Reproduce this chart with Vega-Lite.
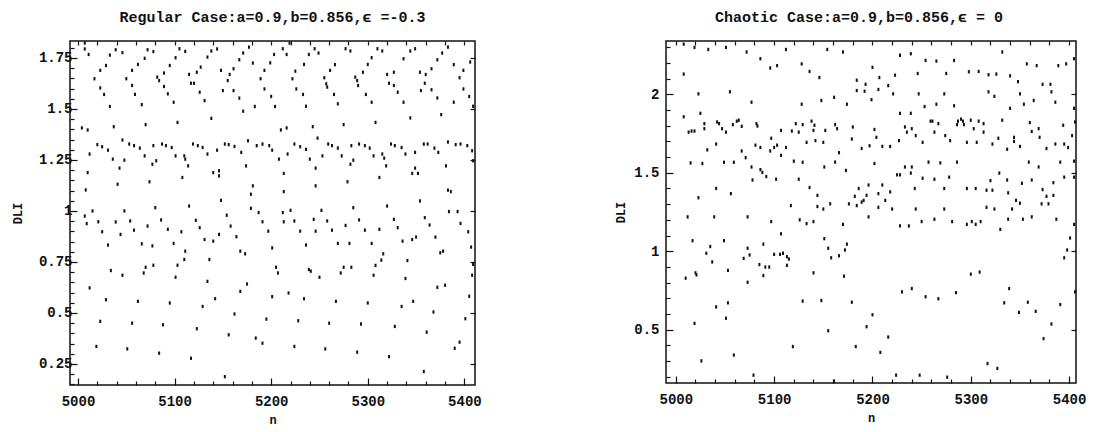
{
  "$schema": "https://vega.github.io/schema/vega-lite/v6.json",
  "background": "white",
  "padding": {"left": 10, "top": 9, "right": 5, "bottom": 0},
  "spacing": 132,
  "config": {
    "view": {"stroke": "#111", "strokeWidth": 1.5},
    "font": "Liberation Mono",
    "axis": {"labelFont": "Liberation Mono", "labelFontWeight": "bold", "labelFontSize": 14, "labelColor": "#111", "titleFont": "Liberation Mono", "titleFontWeight": "bold", "titleFontSize": 12, "titleColor": "#111", "domain": false, "grid": false, "tickColor": "#111", "tickWidth": 1.2, "labelOverlap": false, "labelFlush": false, "labelBound": false},
    "title": {"font": "Liberation Mono", "fontWeight": "bold", "fontSize": 15, "color": "#111"}
  },
  "datasets": {
    "regular": [
      {"n":5007,"dli":1.823},{"n":5007,"dli":1.794},{"n":5011,"dli":1.767},{"n":5039,"dli":1.790},{"n":5046,"dli":1.776},{"n":5033,"dli":1.764},{"n":5072,"dli":1.790},{"n":5078,"dli":1.781},{"n":5105,"dli":1.795},{"n":5111,"dli":1.782},{"n":5069,"dli":1.748},{"n":5101,"dli":1.751},{"n":5029,"dli":1.713},{"n":5062,"dli":1.718},{"n":5095,"dli":1.713},{"n":5127,"dli":1.705},{"n":5023,"dli":1.689},{"n":5056,"dli":1.689},{"n":5089,"dli":1.676},{"n":5123,"dli":1.680},{"n":5017,"dli":1.648},{"n":5050,"dli":1.648},{"n":5082,"dli":1.656},{"n":5115,"dli":1.669},{"n":5023,"dli":1.603},{"n":5056,"dli":1.615},{"n":5084,"dli":1.639},{"n":5089,"dli":1.610},{"n":5117,"dli":1.626},{"n":5120,"dli":1.626},{"n":5027,"dli":1.571},{"n":5059,"dli":1.571},{"n":5093,"dli":1.574},{"n":5126,"dli":1.582},{"n":5033,"dli":1.512},{"n":5066,"dli":1.521},{"n":5099,"dli":1.533},{"n":5131,"dli":1.541},{"n":5037,"dli":1.413},{"n":5070,"dli":1.423},{"n":5103,"dli":1.434},{"n":5004,"dli":1.407},{"n":5010,"dli":1.397},{"n":5046,"dli":1.348},{"n":5020,"dli":1.325},{"n":5025,"dli":1.315},{"n":5031,"dli":1.298},{"n":5053,"dli":1.328},{"n":5058,"dli":1.320},{"n":5064,"dli":1.308},{"n":5078,"dli":1.320},{"n":5087,"dli":1.328},{"n":5091,"dli":1.320},{"n":5097,"dli":1.311},{"n":5119,"dli":1.328},{"n":5124,"dli":1.320},{"n":5129,"dli":1.311},{"n":5012,"dli":1.279},{"n":5036,"dli":1.254},{"n":5048,"dli":1.249},{"n":5043,"dli":1.210},{"n":5069,"dli":1.270},{"n":5077,"dli":1.229},{"n":5081,"dli":1.246},{"n":5101,"dli":1.270},{"n":5110,"dli":1.270},{"n":5111,"dli":1.254},{"n":5114,"dli":1.221},{"n":5010,"dli":1.188},{"n":5041,"dli":1.131},{"n":5074,"dli":1.143},{"n":5108,"dli":1.164},{"n":5008,"dli":1.103},{"n":5015,"dli":1.000},{"n":5048,"dli":1.000},{"n":5080,"dli":1.016},{"n":5115,"dli":1.024},{"n":5007,"dli":0.975},{"n":5009,"dli":0.938},{"n":5021,"dli":0.947},{"n":5039,"dli":0.946},{"n":5054,"dli":0.951},{"n":5072,"dli":0.926},{"n":5086,"dli":0.956},{"n":5093,"dli":0.910},{"n":5107,"dli":0.898},{"n":5122,"dli":0.954},{"n":5126,"dli":0.918},{"n":5025,"dli":0.898},{"n":5044,"dli":0.885},{"n":5058,"dli":0.906},{"n":5031,"dli":0.833},{"n":5066,"dli":0.839},{"n":5077,"dli":0.829},{"n":5099,"dli":0.841},{"n":5111,"dli":0.803},{"n":5131,"dli":0.860},{"n":5034,"dli":0.708},{"n":5046,"dli":0.685},{"n":5070,"dli":0.724},{"n":5078,"dli":0.734},{"n":5068,"dli":0.696},{"n":5103,"dli":0.734},{"n":5101,"dli":0.675},{"n":5110,"dli":0.762},{"n":5012,"dli":0.623},{"n":5029,"dli":0.565},{"n":5062,"dli":0.557},{"n":5095,"dli":0.549},{"n":5129,"dli":0.532},{"n":5023,"dli":0.459},{"n":5056,"dli":0.450},{"n":5088,"dli":0.442},{"n":5123,"dli":0.423},{"n":5019,"dli":0.336},{"n":5051,"dli":0.324},{"n":5084,"dli":0.303},{"n":5117,"dli":0.278},
      {"n":5134,"dli":1.754},{"n":5138,"dli":1.784},{"n":5144,"dli":1.794},{"n":5167,"dli":1.741},{"n":5171,"dli":1.774},{"n":5177,"dli":1.803},{"n":5203,"dli":1.767},{"n":5212,"dli":1.795},{"n":5216,"dli":1.767},{"n":5239,"dli":1.767},{"n":5245,"dli":1.795},{"n":5249,"dli":1.774},{"n":5219,"dli":1.823},{"n":5148,"dli":1.689},{"n":5155,"dli":1.639},{"n":5157,"dli":1.669},{"n":5161,"dli":1.697},{"n":5150,"dli":1.590},{"n":5161,"dli":1.590},{"n":5167,"dli":1.553},{"n":5171,"dli":1.489},{"n":5183,"dli":1.512},{"n":5181,"dli":1.725},{"n":5189,"dli":1.648},{"n":5193,"dli":1.689},{"n":5193,"dli":1.598},{"n":5199,"dli":1.726},{"n":5200,"dli":1.561},{"n":5204,"dli":1.512},{"n":5222,"dli":1.648},{"n":5225,"dli":1.685},{"n":5226,"dli":1.598},{"n":5233,"dli":1.571},{"n":5234,"dli":1.718},{"n":5236,"dli":1.513},{"n":5255,"dli":1.653},{"n":5257,"dli":1.623},{"n":5258,"dli":1.607},{"n":5265,"dli":1.571},{"n":5261,"dli":1.689},{"n":5266,"dli":1.717},{"n":5269,"dli":1.525},{"n":5138,"dli":1.454},{"n":5210,"dli":1.397},{"n":5216,"dli":1.407},{"n":5243,"dli":1.413},{"n":5248,"dli":1.357},{"n":5134,"dli":1.279},{"n":5144,"dli":1.298},{"n":5152,"dli":1.328},{"n":5156,"dli":1.325},{"n":5162,"dli":1.316},{"n":5169,"dli":1.287},{"n":5176,"dli":1.344},{"n":5185,"dli":1.320},{"n":5191,"dli":1.328},{"n":5198,"dli":1.320},{"n":5201,"dli":1.298},{"n":5208,"dli":1.254},{"n":5217,"dli":1.279},{"n":5224,"dli":1.328},{"n":5230,"dli":1.315},{"n":5236,"dli":1.302},{"n":5240,"dli":1.254},{"n":5253,"dli":1.270},{"n":5259,"dli":1.328},{"n":5263,"dli":1.320},{"n":5269,"dli":1.308},{"n":5273,"dli":1.270},{"n":5140,"dli":1.188},{"n":5146,"dli":1.197},{"n":5146,"dli":1.172},{"n":5174,"dli":1.221},{"n":5213,"dli":1.184},{"n":5246,"dli":1.210},{"n":5181,"dli":1.123},{"n":5179,"dli":1.082},{"n":5213,"dli":1.095},{"n":5246,"dli":1.123},{"n":5148,"dli":1.052},{"n":5154,"dli":0.979},{"n":5158,"dli":0.926},{"n":5179,"dli":1.013},{"n":5187,"dli":0.992},{"n":5191,"dli":0.947},{"n":5197,"dli":0.901},{"n":5212,"dli":0.992},{"n":5213,"dli":0.947},{"n":5220,"dli":1.003},{"n":5224,"dli":0.951},{"n":5230,"dli":0.901},{"n":5236,"dli":0.833},{"n":5244,"dli":0.959},{"n":5246,"dli":0.901},{"n":5252,"dli":1.003},{"n":5258,"dli":0.951},{"n":5263,"dli":0.906},{"n":5269,"dli":0.841},{"n":5140,"dli":0.852},{"n":5146,"dli":0.885},{"n":5164,"dli":0.874},{"n":5168,"dli":0.803},{"n":5173,"dli":0.790},{"n":5201,"dli":0.819},{"n":5136,"dli":0.762},{"n":5205,"dli":0.724},{"n":5207,"dli":0.696},{"n":5239,"dli":0.713},{"n":5241,"dli":0.705},{"n":5250,"dli":0.675},{"n":5272,"dli":0.696},{"n":5134,"dli":0.655},{"n":5142,"dli":0.570},{"n":5168,"dli":0.606},{"n":5175,"dli":0.642},{"n":5201,"dli":0.580},{"n":5218,"dli":0.598},{"n":5234,"dli":0.570},{"n":5267,"dli":0.557},{"n":5162,"dli":0.495},{"n":5195,"dli":0.470},{"n":5228,"dli":0.462},{"n":5260,"dli":0.450},{"n":5156,"dli":0.393},{"n":5184,"dli":0.377},{"n":5191,"dli":0.352},{"n":5224,"dli":0.336},{"n":5256,"dli":0.324},{"n":5152,"dli":0.188},
      {"n":5277,"dli":1.795},{"n":5282,"dli":1.784},{"n":5310,"dli":1.795},{"n":5315,"dli":1.784},{"n":5344,"dli":1.784},{"n":5349,"dli":1.795},{"n":5383,"dli":1.803},{"n":5377,"dli":1.774},{"n":5304,"dli":1.751},{"n":5337,"dli":1.746},{"n":5372,"dli":1.741},{"n":5406,"dli":1.730},{"n":5300,"dli":1.718},{"n":5295,"dli":1.680},{"n":5287,"dli":1.656},{"n":5289,"dli":1.639},{"n":5290,"dli":1.615},{"n":5320,"dli":1.669},{"n":5327,"dli":1.680},{"n":5322,"dli":1.626},{"n":5327,"dli":1.615},{"n":5331,"dli":1.582},{"n":5354,"dli":1.680},{"n":5360,"dli":1.669},{"n":5366,"dli":1.697},{"n":5359,"dli":1.626},{"n":5355,"dli":1.590},{"n":5366,"dli":1.594},{"n":5389,"dli":1.717},{"n":5399,"dli":1.689},{"n":5395,"dli":1.653},{"n":5399,"dli":1.598},{"n":5372,"dli":1.554},{"n":5405,"dli":1.561},{"n":5409,"dli":1.513},{"n":5298,"dli":1.571},{"n":5304,"dli":1.533},{"n":5337,"dli":1.533},{"n":5376,"dli":1.472},{"n":5389,"dli":1.533},{"n":5275,"dli":1.423},{"n":5308,"dli":1.434},{"n":5344,"dli":1.456},{"n":5283,"dli":1.320},{"n":5291,"dli":1.328},{"n":5297,"dli":1.320},{"n":5302,"dli":1.308},{"n":5306,"dli":1.270},{"n":5315,"dli":1.279},{"n":5317,"dli":1.259},{"n":5324,"dli":1.328},{"n":5328,"dli":1.320},{"n":5335,"dli":1.311},{"n":5339,"dli":1.279},{"n":5349,"dli":1.287},{"n":5358,"dli":1.328},{"n":5362,"dli":1.328},{"n":5369,"dli":1.308},{"n":5373,"dli":1.287},{"n":5383,"dli":1.338},{"n":5391,"dli":1.325},{"n":5396,"dli":1.328},{"n":5403,"dli":1.320},{"n":5408,"dli":1.295},{"n":5409,"dli":1.246},{"n":5282,"dli":1.229},{"n":5285,"dli":1.249},{"n":5319,"dli":1.221},{"n":5312,"dli":1.164},{"n":5279,"dli":1.143},{"n":5349,"dli":1.210},{"n":5346,"dli":1.184},{"n":5352,"dli":1.184},{"n":5381,"dli":1.221},{"n":5383,"dli":1.102},{"n":5386,"dli":1.095},{"n":5354,"dli":1.049},{"n":5320,"dli":1.024},{"n":5285,"dli":1.016},{"n":5384,"dli":0.997},{"n":5393,"dli":0.997},{"n":5277,"dli":0.929},{"n":5291,"dli":0.956},{"n":5297,"dli":0.906},{"n":5312,"dli":0.910},{"n":5327,"dli":0.959},{"n":5331,"dli":0.918},{"n":5359,"dli":0.967},{"n":5364,"dli":0.931},{"n":5370,"dli":0.872},{"n":5396,"dli":0.939},{"n":5404,"dli":0.898},{"n":5407,"dli":0.823},{"n":5281,"dli":0.841},{"n":5304,"dli":0.841},{"n":5336,"dli":0.852},{"n":5346,"dli":0.860},{"n":5350,"dli":0.872},{"n":5375,"dli":0.795},{"n":5378,"dli":0.803},{"n":5275,"dli":0.724},{"n":5283,"dli":0.724},{"n":5308,"dli":0.733},{"n":5306,"dli":0.685},{"n":5314,"dli":0.759},{"n":5316,"dli":0.790},{"n":5341,"dli":0.757},{"n":5339,"dli":0.669},{"n":5372,"dli":0.626},{"n":5380,"dli":0.636},{"n":5409,"dli":0.738},{"n":5408,"dli":0.685},{"n":5300,"dli":0.549},{"n":5335,"dli":0.532},{"n":5347,"dli":0.557},{"n":5368,"dli":0.505},{"n":5405,"dli":0.582},{"n":5293,"dli":0.446},{"n":5328,"dli":0.434},{"n":5361,"dli":0.406},{"n":5401,"dli":0.472},{"n":5289,"dli":0.308},{"n":5322,"dli":0.286},{"n":5390,"dli":0.327},{"n":5395,"dli":0.357},{"n":5358,"dli":0.213}
    ],
    "chaotic": [
      {"n":5008,"dli":2.32},{"n":5019,"dli":2.299},{"n":5033,"dli":2.286},{"n":5051,"dli":2.299},{"n":5072,"dli":2.270},{"n":5086,"dli":2.227},{"n":5096,"dli":2.168},{"n":5103,"dli":2.183},{"n":5112,"dli":2.286},{"n":5128,"dli":2.194},{"n":5008,"dli":2.129},{"n":5023,"dli":2.003},{"n":5055,"dli":2.016},{"n":5077,"dli":1.950},{"n":5128,"dli":1.937},{"n":5008,"dli":1.857},{"n":5025,"dli":1.879},{"n":5029,"dli":1.813},{"n":5029,"dli":1.781},{"n":5042,"dli":1.824},{"n":5044,"dli":1.813},{"n":5047,"dli":1.781},{"n":5051,"dli":1.759},{"n":5058,"dli":1.807},{"n":5062,"dli":1.829},{"n":5064,"dli":1.835},{"n":5067,"dli":1.796},{"n":5082,"dli":1.813},{"n":5083,"dli":1.798},{"n":5013,"dli":1.759},{"n":5016,"dli":1.766},{"n":5019,"dli":1.766},{"n":5032,"dli":1.646},{"n":5041,"dli":1.683},{"n":5067,"dli":1.639},{"n":5071,"dli":1.596},{"n":5081,"dli":1.676},{"n":5086,"dli":1.661},{"n":5097,"dli":1.720},{"n":5096,"dli":1.639},{"n":5100,"dli":1.661},{"n":5103,"dli":1.676},{"n":5107,"dli":1.611},{"n":5107,"dli":1.770},{"n":5112,"dli":1.661},{"n":5118,"dli":1.766},{"n":5122,"dli":1.813},{"n":5125,"dli":1.759},{"n":5129,"dli":1.807},{"n":5015,"dli":1.563},{"n":5027,"dli":1.559},{"n":5049,"dli":1.567},{"n":5059,"dli":1.567},{"n":5077,"dli":1.537},{"n":5078,"dli":1.454},{"n":5086,"dli":1.520},{"n":5088,"dli":1.502},{"n":5092,"dli":1.476},{"n":5102,"dli":1.459},{"n":5120,"dli":1.574},{"n":5125,"dli":1.459},{"n":5129,"dli":1.567},{"n":5041,"dli":1.400},{"n":5056,"dli":1.367},{"n":5023,"dli":1.341},{"n":5117,"dli":1.291},{"n":5126,"dli":1.200},{"n":5012,"dli":1.219},{"n":5039,"dli":1.219},{"n":5073,"dli":1.219},{"n":5097,"dli":1.189},{"n":5107,"dli":1.111},{"n":5017,"dli":1.067},{"n":5049,"dli":1.067},{"n":5035,"dli":1.030},{"n":5031,"dli":0.987},{"n":5037,"dli":0.932},{"n":5073,"dli":1.019},{"n":5075,"dli":0.976},{"n":5069,"dli":0.954},{"n":5089,"dli":1.045},{"n":5085,"dli":0.915},{"n":5091,"dli":0.899},{"n":5095,"dli":0.899},{"n":5089,"dli":0.845},{"n":5100,"dli":0.980},{"n":5106,"dli":0.980},{"n":5109,"dli":0.987},{"n":5113,"dli":0.965},{"n":5115,"dli":0.950},{"n":5113,"dli":0.910},{"n":5010,"dli":0.828},{"n":5020,"dli":0.862},{"n":5021,"dli":0.849},{"n":5053,"dli":0.878},{"n":5073,"dli":0.802},{"n":5041,"dli":0.645},{"n":5053,"dli":0.671},{"n":5051,"dli":0.573},{"n":5019,"dli":0.540},{"n":5129,"dli":0.682},{"n":5119,"dli":0.392},{"n":5026,"dli":0.301},{"n":5059,"dli":0.338},{"n":5079,"dli":0.210},
      {"n":5154,"dli":2.286},{"n":5170,"dli":2.270},{"n":5228,"dli":2.249},{"n":5239,"dli":2.259},{"n":5254,"dli":2.216},{"n":5265,"dli":2.212},{"n":5136,"dli":2.146},{"n":5146,"dli":2.107},{"n":5184,"dli":2.090},{"n":5193,"dli":2.064},{"n":5192,"dli":2.020},{"n":5184,"dli":2.024},{"n":5207,"dli":2.107},{"n":5216,"dli":2.056},{"n":5206,"dli":2.031},{"n":5221,"dli":2.003},{"n":5223,"dli":2.122},{"n":5200,"dli":2.172},{"n":5246,"dli":2.133},{"n":5247,"dli":2.003},{"n":5148,"dli":1.961},{"n":5161,"dli":1.981},{"n":5174,"dli":1.937},{"n":5199,"dli":1.966},{"n":5228,"dli":1.879},{"n":5239,"dli":1.879},{"n":5253,"dli":1.922},{"n":5265,"dli":1.937},{"n":5138,"dli":1.829},{"n":5141,"dli":1.803},{"n":5140,"dli":1.770},{"n":5152,"dli":1.770},{"n":5162,"dli":1.807},{"n":5164,"dli":1.781},{"n":5180,"dli":1.792},{"n":5179,"dli":1.715},{"n":5202,"dli":1.776},{"n":5204,"dli":1.726},{"n":5133,"dli":1.694},{"n":5142,"dli":1.705},{"n":5150,"dli":1.694},{"n":5189,"dli":1.655},{"n":5197,"dli":1.672},{"n":5210,"dli":1.668},{"n":5218,"dli":1.668},{"n":5227,"dli":1.705},{"n":5233,"dli":1.792},{"n":5235,"dli":1.759},{"n":5240,"dli":1.781},{"n":5244,"dli":1.737},{"n":5251,"dli":1.694},{"n":5259,"dli":1.829},{"n":5261,"dli":1.829},{"n":5267,"dli":1.813},{"n":5263,"dli":1.759},{"n":5166,"dli":1.628},{"n":5151,"dli":1.537},{"n":5162,"dli":1.568},{"n":5173,"dli":1.515},{"n":5202,"dli":1.559},{"n":5225,"dli":1.487},{"n":5228,"dli":1.487},{"n":5233,"dli":1.537},{"n":5239,"dli":1.498},{"n":5240,"dli":1.537},{"n":5251,"dli":1.465},{"n":5257,"dli":1.568},{"n":5263,"dli":1.459},{"n":5269,"dli":1.563},{"n":5136,"dli":1.406},{"n":5144,"dli":1.356},{"n":5144,"dli":1.285},{"n":5150,"dli":1.269},{"n":5157,"dli":1.302},{"n":5176,"dli":1.302},{"n":5182,"dli":1.350},{"n":5186,"dli":1.400},{"n":5184,"dli":1.291},{"n":5189,"dli":1.313},{"n":5191,"dli":1.324},{"n":5194,"dli":1.356},{"n":5196,"dli":1.422},{"n":5210,"dli":1.422},{"n":5206,"dli":1.367},{"n":5213,"dli":1.324},{"n":5218,"dli":1.378},{"n":5206,"dli":1.280},{"n":5220,"dli":1.269},{"n":5196,"dli":1.219},{"n":5244,"dli":1.269},{"n":5243,"dli":1.400},{"n":5250,"dli":1.189},{"n":5263,"dli":1.204},{"n":5133,"dli":1.176},{"n":5140,"dli":1.189},{"n":5170,"dli":1.171},{"n":5228,"dli":1.161},{"n":5237,"dli":1.161},{"n":5151,"dli":1.080},{"n":5155,"dli":1.019},{"n":5158,"dli":0.958},{"n":5166,"dli":0.971},{"n":5172,"dli":1.008},{"n":5174,"dli":1.045},{"n":5140,"dli":0.862},{"n":5171,"dli":0.841},{"n":5230,"dli":0.741},{"n":5240,"dli":0.762},{"n":5254,"dli":0.710},{"n":5267,"dli":0.697},{"n":5148,"dli":0.686},{"n":5179,"dli":0.675},{"n":5200,"dli":0.595},{"n":5194,"dli":0.519},{"n":5216,"dli":0.453},{"n":5155,"dli":0.493},{"n":5183,"dli":0.392},{"n":5208,"dli":0.355},{"n":5224,"dli":0.210},{"n":5248,"dli":0.210},{"n":5161,"dli":0.172},
      {"n":5332,"dli":2.270},{"n":5283,"dli":2.216},{"n":5405,"dli":2.227},{"n":5357,"dli":2.194},{"n":5367,"dli":2.183},{"n":5389,"dli":2.183},{"n":5397,"dli":2.194},{"n":5275,"dli":2.133},{"n":5298,"dli":2.144},{"n":5308,"dli":2.146},{"n":5318,"dli":2.125},{"n":5326,"dli":2.129},{"n":5340,"dli":2.118},{"n":5348,"dli":2.081},{"n":5373,"dli":2.064},{"n":5381,"dli":2.064},{"n":5318,"dli":2.016},{"n":5324,"dli":1.987},{"n":5350,"dli":2.003},{"n":5382,"dli":2.016},{"n":5273,"dli":2.003},{"n":5283,"dli":1.927},{"n":5340,"dli":1.911},{"n":5354,"dli":1.937},{"n":5364,"dli":1.961},{"n":5386,"dli":1.950},{"n":5405,"dli":1.911},{"n":5286,"dli":1.807},{"n":5287,"dli":1.829},{"n":5290,"dli":1.842},{"n":5292,"dli":1.829},{"n":5293,"dli":1.807},{"n":5300,"dli":1.835},{"n":5308,"dli":1.829},{"n":5303,"dli":1.781},{"n":5313,"dli":1.813},{"n":5313,"dli":1.759},{"n":5274,"dli":1.737},{"n":5279,"dli":1.705},{"n":5296,"dli":1.694},{"n":5306,"dli":1.694},{"n":5332,"dli":1.835},{"n":5360,"dli":1.820},{"n":5362,"dli":1.763},{"n":5369,"dli":1.781},{"n":5370,"dli":1.726},{"n":5344,"dli":1.726},{"n":5344,"dli":1.700},{"n":5328,"dli":1.720},{"n":5322,"dli":1.683},{"n":5337,"dli":1.650},{"n":5350,"dli":1.668},{"n":5377,"dli":1.655},{"n":5386,"dli":1.683},{"n":5394,"dli":1.803},{"n":5395,"dli":1.683},{"n":5399,"dli":1.661},{"n":5403,"dli":1.737},{"n":5406,"dli":1.824},{"n":5286,"dli":1.568},{"n":5359,"dli":1.568},{"n":5369,"dli":1.537},{"n":5391,"dli":1.568},{"n":5405,"dli":1.574},{"n":5278,"dli":1.472},{"n":5329,"dli":1.498},{"n":5320,"dli":1.450},{"n":5337,"dli":1.454},{"n":5352,"dli":1.433},{"n":5362,"dli":1.454},{"n":5395,"dli":1.472},{"n":5405,"dli":1.472},{"n":5384,"dli":1.437},{"n":5273,"dli":1.400},{"n":5296,"dli":1.400},{"n":5305,"dli":1.400},{"n":5316,"dli":1.389},{"n":5322,"dli":1.389},{"n":5338,"dli":1.372},{"n":5346,"dli":1.324},{"n":5350,"dli":1.306},{"n":5342,"dli":1.269},{"n":5316,"dli":1.280},{"n":5324,"dli":1.269},{"n":5373,"dli":1.393},{"n":5377,"dli":1.350},{"n":5372,"dli":1.302},{"n":5379,"dli":1.302},{"n":5384,"dli":1.356},{"n":5273,"dli":1.269},{"n":5281,"dli":1.189},{"n":5296,"dli":1.171},{"n":5301,"dli":1.189},{"n":5305,"dli":1.171},{"n":5310,"dli":1.189},{"n":5330,"dli":1.139},{"n":5338,"dli":1.204},{"n":5353,"dli":1.204},{"n":5362,"dli":1.219},{"n":5387,"dli":1.204},{"n":5405,"dli":1.171},{"n":5401,"dli":1.084},{"n":5398,"dli":1.008},{"n":5395,"dli":0.958},{"n":5300,"dli":0.854},{"n":5309,"dli":0.867},{"n":5285,"dli":0.736},{"n":5339,"dli":0.762},{"n":5406,"dli":0.741},{"n":5334,"dli":0.671},{"n":5358,"dli":0.675},{"n":5349,"dli":0.610},{"n":5366,"dli":0.617},{"n":5391,"dli":0.660},{"n":5382,"dli":0.536},{"n":5374,"dli":0.443},{"n":5317,"dli":0.284},{"n":5327,"dli":0.253},{"n":5276,"dli":0.197}
    ]
  },
  "hconcat": [
    {
      "width": 405,
      "height": 344,
      "title": {"text": "Regular Case:a=0.9,b=0.856,ϵ =-0.3", "offset": 15},
      "data": {"name": "regular"},
      "layer": [
        {
          "mark": {"type": "point", "filled": true, "shape": "M-0.6,-1L0.6,-1L0.6,1L-0.6,1Z", "size": 11, "color": "#111", "opacity": 1},
          "encoding": {
            "x": {"field": "n", "type": "quantitative", "scale": {"domain": [4991.7, 5411], "nice": false, "zero": false},
              "axis": {"values": [5000,5020,5040,5060,5080,5100,5120,5140,5160,5180,5200,5220,5240,5260,5280,5300,5320,5340,5360,5380,5400],
                "labelExpr": "datum.value % 100 === 0 ? format(datum.value, 'd') : ''",
                "tickSize": {"condition": {"test": "datum.value % 100 === 0", "value": -7}, "value": -4},
                "labelPadding": 16, "title": "n", "titlePadding": 3}},
            "y": {"field": "dli", "type": "quantitative", "scale": {"domain": [0.147, 1.833], "nice": false, "zero": false},
              "axis": {"values": [0.15,0.2,0.25,0.3,0.35,0.4,0.45,0.5,0.55,0.6,0.65,0.7,0.75,0.8,0.85,0.9,0.95,1,1.05,1.1,1.15,1.2,1.25,1.3,1.35,1.4,1.45,1.5,1.55,1.6,1.65,1.7,1.75,1.8],
                "labelExpr": "abs(datum.value*4 - round(datum.value*4)) < 0.001 ? format(datum.value, '~g') : ''",
                "tickSize": {"condition": {"test": "abs(datum.value*4 - round(datum.value*4)) < 0.001", "value": -7}, "value": -4},
                "labelPadding": 5, "title": "DLI", "titlePadding": 14}}
          }
        },
        {
          "mark": {"type": "point", "opacity": 0},
          "encoding": {
            "x": {"field": "n", "type": "quantitative", "scale": {"domain": [4991.7, 5411], "nice": false, "zero": false},
              "axis": {"orient": "top", "values": [5000,5020,5040,5060,5080,5100,5120,5140,5160,5180,5200,5220,5240,5260,5280,5300,5320,5340,5360,5380,5400], "labels": false, "tickSize": -4, "title": null}},
            "y": {"field": "dli", "type": "quantitative", "scale": {"domain": [0.147, 1.833], "nice": false, "zero": false},
              "axis": {"orient": "right", "values": [0.25,0.5,0.75,1,1.25,1.5,1.75], "labels": false, "tickSize": -5, "title": null}}
          }
        }
      ],
      "resolve": {"axis": {"x": "independent", "y": "independent"}}
    },
    {
      "width": 410,
      "height": 342,
      "title": {"text": "Chaotic Case:a=0.9,b=0.856,ϵ = 0", "offset": 15, "dx": -12},
      "data": {"name": "chaotic"},
      "layer": [
        {
          "mark": {"type": "point", "filled": true, "shape": "M-0.6,-1L0.6,-1L0.6,1L-0.6,1Z", "size": 11, "color": "#111", "opacity": 1},
          "encoding": {
            "x": {"field": "n", "type": "quantitative", "scale": {"domain": [4990, 5407], "nice": false, "zero": false},
              "axis": {"values": [5000,5020,5040,5060,5080,5100,5120,5140,5160,5180,5200,5220,5240,5260,5280,5300,5320,5340,5360,5380,5400],
                "labelExpr": "datum.value % 100 === 0 ? format(datum.value, 'd') : ''",
                "tickSize": {"condition": {"test": "datum.value % 100 === 0", "value": -7}, "value": -4},
                "labelPadding": 16, "title": "n", "titlePadding": 3}},
            "y": {"field": "dli", "type": "quantitative", "scale": {"domain": [0.16, 2.34], "nice": false, "zero": false},
              "axis": {"values": [0.2,0.3,0.4,0.5,0.6,0.7,0.8,0.9,1,1.1,1.2,1.3,1.4,1.5,1.6,1.7,1.8,1.9,2,2.1,2.2,2.3],
                "labelExpr": "abs(datum.value*2 - round(datum.value*2)) < 0.001 ? format(datum.value, '~g') : ''",
                "tickSize": {"condition": {"test": "abs(datum.value*2 - round(datum.value*2)) < 0.001", "value": -7}, "value": -4},
                "labelPadding": 14, "title": "DLI", "titlePadding": 6}}
          }
        },
        {
          "mark": {"type": "point", "opacity": 0},
          "encoding": {
            "x": {"field": "n", "type": "quantitative", "scale": {"domain": [4990, 5407], "nice": false, "zero": false},
              "axis": {"orient": "top", "values": [5000,5020,5040,5060,5080,5100,5120,5140,5160,5180,5200,5220,5240,5260,5280,5300,5320,5340,5360,5380,5400], "labels": false, "tickSize": -4, "title": null}},
            "y": {"field": "dli", "type": "quantitative", "scale": {"domain": [0.16, 2.34], "nice": false, "zero": false},
              "axis": {"orient": "right", "values": [0.5,1,1.5,2], "labels": false, "tickSize": -5, "title": null}}
          }
        }
      ],
      "resolve": {"axis": {"x": "independent", "y": "independent"}}
    }
  ]
}
